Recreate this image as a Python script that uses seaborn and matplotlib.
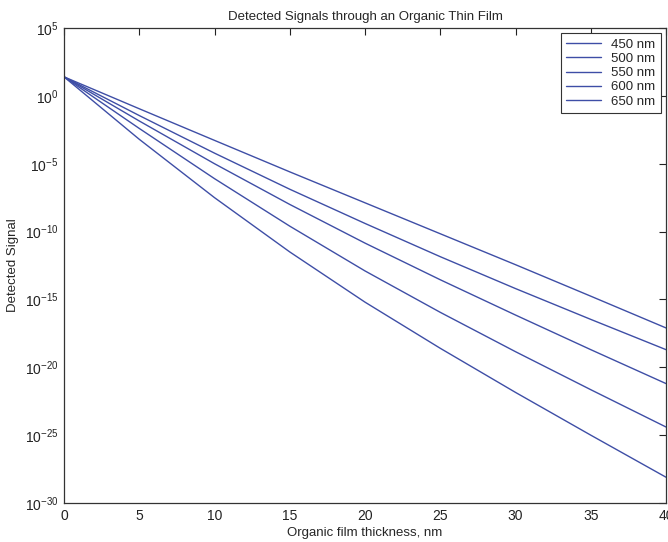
import numpy as np
import pandas as pd
import matplotlib
matplotlib.use("Agg")
import matplotlib.pyplot as plt
import seaborn as sns

# Data (log10 of detected signal)
thickness = [0, 5, 10, 15, 20, 25, 30, 35, 40]
wavelengths = ["450 nm", "500 nm", "550 nm", "600 nm", "650 nm"]
log_450 = [1.4, -0.95, -3.28, -5.60, -7.88, -10.16, -12.44, -14.76, -17.1]
log_500 = [1.4, -1.45, -4.22, -6.88, -9.40, -11.85, -14.20, -16.47, -18.7]
log_550 = [1.4, -1.85, -5.00, -8.00, -10.85, -13.55, -16.15, -18.70, -21.2]
log_600 = [1.4, -2.40, -6.10, -9.60, -12.90, -15.95, -18.85, -21.65, -24.4]
log_650 = [1.4, -3.20, -7.50, -11.50, -15.20, -18.60, -21.85, -25.00, -28.1]
yticks = [1e-30, 1e-25, 1e-20, 1e-15, 1e-10, 1e-5, 1e0, 1e5]
xticks = [0, 5, 10, 15, 20, 25, 30, 35, 40]

series = [log_450, log_500, log_550, log_600, log_650]
rows = []
for wl, vals in zip(wavelengths, series):
    for t, v in zip(thickness, vals):
        rows.append({"thickness": t, "signal": 10.0 ** v, "wavelength": wl})
df = pd.DataFrame(rows)

sns.set_style("white")
plt.rcParams["font.family"] = ["Liberation Sans", "DejaVu Sans"]
plt.rcParams["mathtext.fontset"] = "custom"
plt.rcParams["mathtext.rm"] = "Liberation Sans"
plt.rcParams["mathtext.it"] = "Liberation Sans:italic"
plt.rcParams["mathtext.bf"] = "Liberation Sans:bold"
plt.rcParams["axes.unicode_minus"] = False

fig = plt.figure(figsize=(6.68, 5.42), dpi=100)
ax = fig.add_axes([64 / 668, 1 - 503 / 542, (666 - 64) / 668, (503 - 28) / 542])

color = "#3e4ea6"
sns.lineplot(data=df, x="thickness", y="signal", hue="wavelength",
             palette=[color] * 5, linewidth=1.0, ax=ax, legend=True)

ax.set_yscale("log")
ax.set_xlim(0, 40)
ax.set_ylim(1e-30, 1e5)
ax.set_xticks(xticks)
ax.set_xticklabels([str(x) for x in xticks])
ax.set_yticks(yticks)
ax.yaxis.set_minor_locator(matplotlib.ticker.NullLocator())
ax.tick_params(axis="both", which="both", direction="in", length=5, width=0.8,
               top=True, right=True, labelsize=10, colors="#222222", pad=4)
for s in ax.spines.values():
    s.set_color("#333333")
    s.set_linewidth(0.9)

ax.set_xlabel("Organic film thickness, nm", fontsize=9.5, labelpad=3)
ax.set_ylabel("Detected Signal", fontsize=9.5, labelpad=4)
ax.set_title("Detected Signals through an Organic Thin Film", fontsize=9.5, pad=6)

leg = ax.legend(loc="upper right", fontsize=9.5, frameon=True, fancybox=False,
                edgecolor="#333333", handlelength=2.6, borderaxespad=0.4,
                labelspacing=0.15, borderpad=0.4, framealpha=1)
leg.get_frame().set_linewidth(0.8)
for line in leg.get_lines():
    line.set_linewidth(1.0)

fig.savefig("out.png", dpi=100, facecolor="white")
